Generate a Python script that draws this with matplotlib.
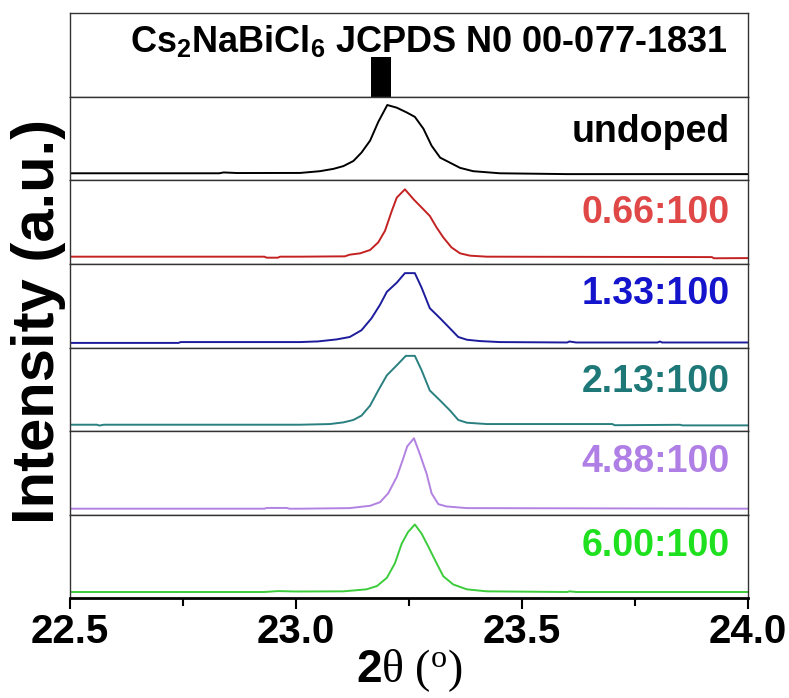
import numpy as np
import matplotlib
matplotlib.use("Agg")
import matplotlib.pyplot as plt
from matplotlib.ticker import MultipleLocator

plt.rcParams['font.family'] = ['Liberation Sans', 'DejaVu Sans']
plt.rcParams['mathtext.fontset'] = 'custom'
plt.rcParams['mathtext.rm'] = 'Liberation Serif'
plt.rcParams['mathtext.it'] = 'Liberation Serif:italic'
plt.rcParams['mathtext.bf'] = 'Liberation Sans:bold'

# reference line (JCPDS)
ref_pos = [23.188]
ref_int = [0.48]

# XRD patterns, 2theta (deg) and normalised intensity
undoped_x = [22.50, 22.83, 22.84, 22.87, 23.009, 23.053, 23.083, 23.105, 23.127, 23.145,
             23.164, 23.182, 23.202, 23.223, 23.245, 23.263, 23.282, 23.300, 23.319, 23.341,
             23.363, 23.392, 23.451, 23.60, 24.00]
undoped_y = [0.085, 0.085, 0.095, 0.088, 0.089, 0.110, 0.138, 0.171, 0.232, 0.333,
             0.476, 0.699, 0.902, 0.870, 0.813, 0.760, 0.618, 0.415, 0.272, 0.211,
             0.150, 0.110, 0.085, 0.075, 0.075]

r066_x = [22.50, 22.93, 22.935, 22.96, 22.965, 23.009, 23.108, 23.119, 23.142, 23.164,
          23.182, 23.197, 23.212, 23.223, 23.241, 23.260, 23.278, 23.296, 23.311, 23.326,
          23.344, 23.363, 23.385, 23.422, 23.92, 23.925, 24.00]
r066_y = [0.087, 0.087, 0.075, 0.075, 0.087, 0.087, 0.091, 0.111, 0.127, 0.167,
          0.258, 0.397, 0.635, 0.794, 0.893, 0.774, 0.675, 0.575, 0.437, 0.317,
          0.198, 0.127, 0.099, 0.087, 0.082, 0.068, 0.070]

r133_x = [22.50, 22.74, 22.745, 23.009, 23.049, 23.090, 23.119, 23.145, 23.167, 23.186,
          23.201, 23.223, 23.241, 23.263, 23.278, 23.296, 23.319, 23.341, 23.359, 23.378,
          23.407, 23.451, 23.60, 23.605, 23.62, 23.80, 23.805, 23.81, 24.00]
r133_y = [0.055, 0.055, 0.065, 0.065, 0.073, 0.097, 0.126, 0.207, 0.349, 0.512,
          0.666, 0.776, 0.890, 0.890, 0.715, 0.471, 0.349, 0.227, 0.126, 0.093,
          0.077, 0.065, 0.060, 0.072, 0.060, 0.060, 0.072, 0.060, 0.060]

r213_x = [22.50, 22.56, 22.565, 22.575, 23.009, 23.075, 23.105, 23.127, 23.145, 23.164,
          23.182, 23.201, 23.223, 23.243, 23.263, 23.278, 23.296, 23.319, 23.341, 23.359,
          23.378, 23.422, 23.70, 23.705, 23.85, 23.855, 24.00]
r213_y = [0.076, 0.076, 0.066, 0.076, 0.076, 0.084, 0.104, 0.133, 0.185, 0.305,
          0.486, 0.667, 0.787, 0.900, 0.900, 0.727, 0.486, 0.365, 0.245, 0.133,
          0.100, 0.084, 0.084, 0.070, 0.075, 0.068, 0.068]

r488_x = [22.50, 22.93, 22.935, 22.98, 22.985, 23.009, 23.119, 23.164, 23.186, 23.204,
          23.223, 23.237, 23.246, 23.261, 23.274, 23.289, 23.300, 23.315, 23.333, 23.378,
          24.00]
r488_y = [0.071, 0.071, 0.080, 0.080, 0.071, 0.071, 0.078, 0.106, 0.149, 0.255,
          0.451, 0.667, 0.816, 0.914, 0.725, 0.490, 0.255, 0.125, 0.098, 0.078,
          0.071]

r600_x = [22.50, 22.93, 22.96, 23.00, 23.105, 23.156, 23.179, 23.201, 23.219, 23.234,
          23.248, 23.263, 23.278, 23.293, 23.311, 23.326, 23.348, 23.378, 23.422, 23.60,
          23.605, 23.62, 24.00]
r600_y = [0.074, 0.074, 0.085, 0.080, 0.082, 0.106, 0.145, 0.243, 0.419, 0.654,
          0.792, 0.882, 0.772, 0.615, 0.419, 0.262, 0.164, 0.106, 0.082, 0.074,
          0.082, 0.074, 0.074]

labels = ['undoped', '0.66:100', '1.33:100', '2.13:100', '4.88:100', '6.00:100']
line_colors = ['#000000', '#c42222', '#1c1c9c', '#2a8080', '#b282e2', '#3ccc3c']
label_colors = ['#000000', '#e04848', '#1414cc', '#1e7878', '#b07fe6', '#1ee01e']
label_y = [0.58, 0.61, 0.64, 0.59, 0.63, 0.62]

xs = [undoped_x, r066_x, r133_x, r213_x, r488_x, r600_x]
ys = [undoped_y, r066_y, r133_y, r213_y, r488_y, r600_y]

fig, axes = plt.subplots(7, 1, sharex=True, figsize=(7.89, 6.98), dpi=100,
                         gridspec_kw={'hspace': 0})
fig.subplots_adjust(left=0.0887, right=0.948, bottom=0.143, top=0.981)

for ax in axes:
    ax.set_xlim(22.5, 24.0)
    ax.set_ylim(0, 1)
    ax.tick_params(left=False, labelleft=False, bottom=False, labelbottom=False)
    for sp in ax.spines.values():
        sp.set_linewidth(1.0)
        sp.set_color('#333333')

# top panel: standard card
axes[0].bar(ref_pos, ref_int, width=0.044, color='black', bottom=0)
axes[0].text(23.955, 0.64, r'Cs$_\mathbf{2}$NaBiCl$_\mathbf{6}$ JCPDS N0 00-077-1831',
             ha='right', va='center', fontsize=26, fontweight='bold')

for i in range(6):
    ax = axes[i + 1]
    ax.plot(xs[i], ys[i], color=line_colors[i], lw=1.4)
    ax.text(23.96, label_y[i], labels[i], ha='right', va='center', fontsize=27,
            fontweight='bold', color=label_colors[i])

axb = axes[-1]
axb.spines['bottom'].set_linewidth(2.0)
axb.spines['bottom'].set_color('black')
axb.xaxis.set_major_locator(MultipleLocator(0.5))
axb.xaxis.set_minor_locator(MultipleLocator(0.25))
axb.tick_params(axis='x', which='both', bottom=True, labelbottom=True, direction='out',
                width=1.5, color='black')
axb.tick_params(axis='x', which='major', length=8, labelsize=29, pad=3)
axb.tick_params(axis='x', which='minor', length=6)
axb.set_xticks([22.5, 23.0, 23.5, 24.0])
axb.set_xticklabels(['22.5', '23.0', '23.5', '24.0'], fontweight='bold')
axb.set_xlabel(r'$\mathbf{2}\mathrm{\theta\ (^o)}$', fontsize=33, labelpad=-3)

fig.text(0.049, 0.54, 'Intensity (a.u.)', rotation=90, ha='center', va='center',
         fontsize=43, fontweight='bold')

plt.savefig('out.png', dpi=100)
